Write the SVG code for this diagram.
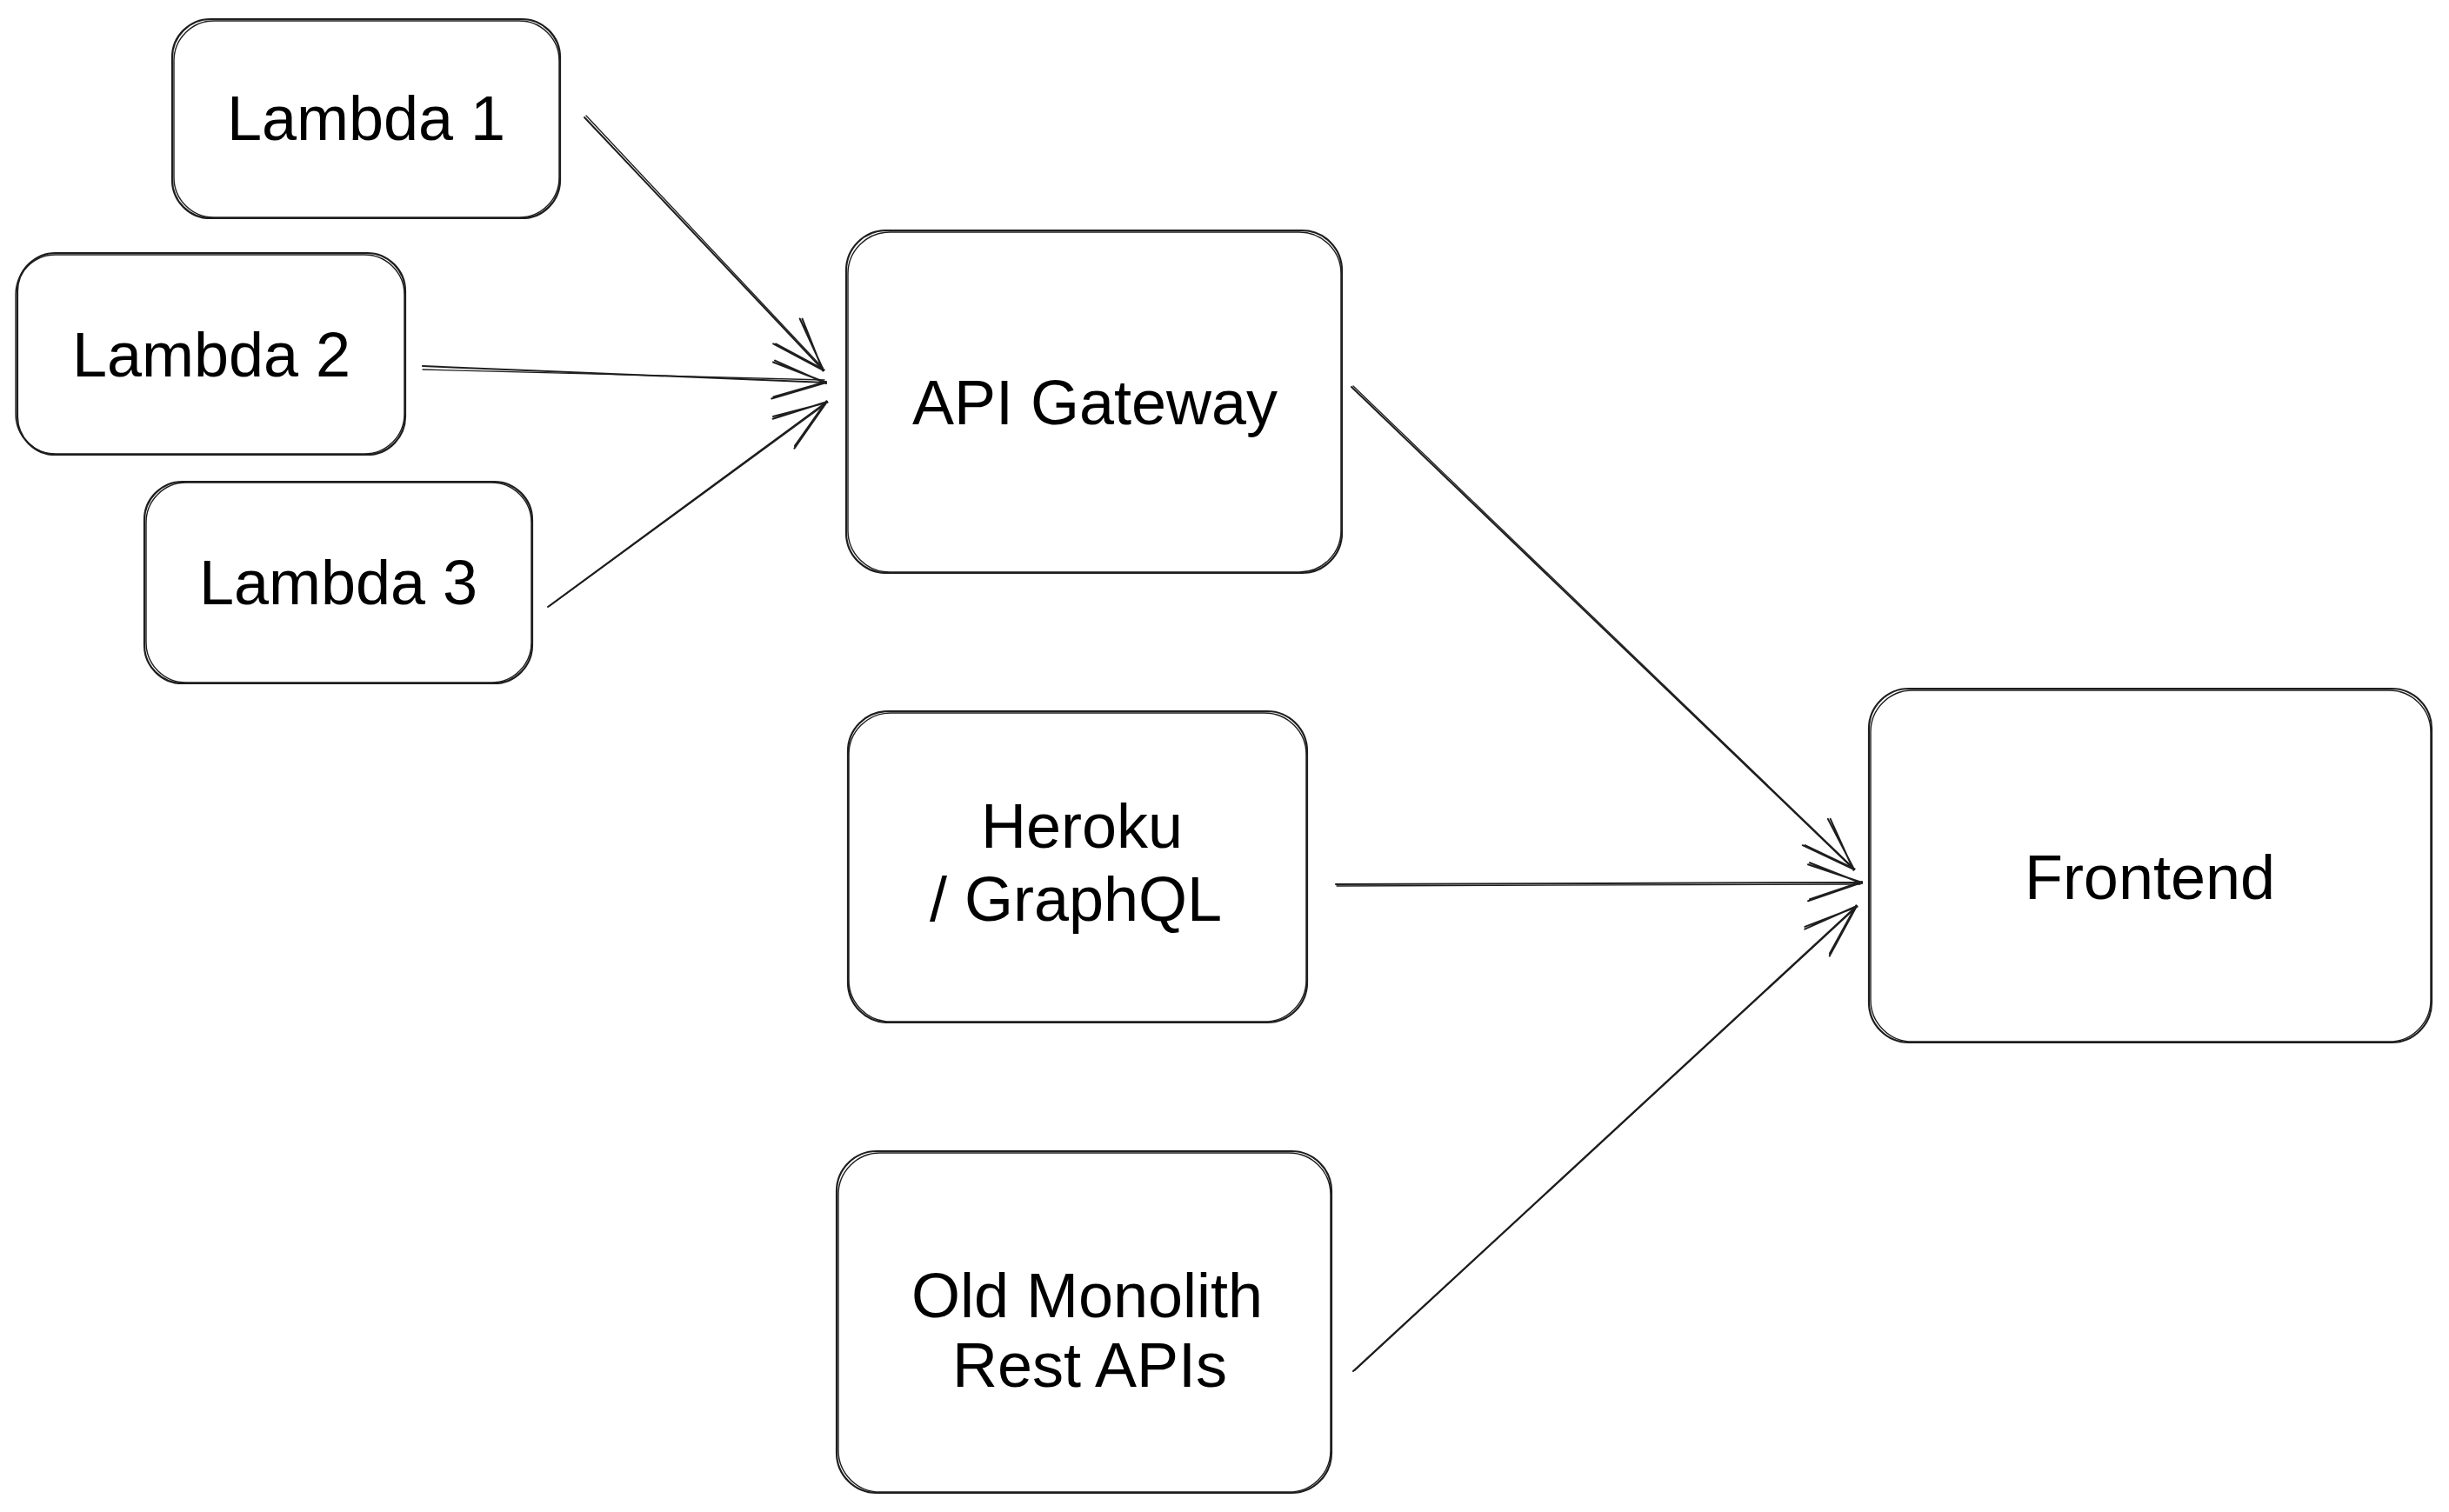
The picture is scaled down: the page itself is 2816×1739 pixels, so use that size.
<svg xmlns="http://www.w3.org/2000/svg" width="2816" height="1739" viewBox="0 0 2816 1739">
<style>
.box{fill:#fff;stroke:#1e1e1e;stroke-width:2.2}
.box2{fill:none;stroke:#1e1e1e;stroke-width:1.4}
.lbl{font-family:"Liberation Sans",Arial,Helvetica,sans-serif;font-size:72px;fill:#000;text-anchor:middle}
.edge{fill:none;stroke:#1e1e1e;stroke-width:2;stroke-linecap:round}
.edge2{fill:none;stroke:#1e1e1e;stroke-width:1.3;stroke-linecap:round}
</style>
<defs>
<marker id="arr" markerUnits="userSpaceOnUse" viewBox="-70 -30 80 60" markerWidth="80" markerHeight="60" refX="0" refY="0" orient="auto">
<path d="M-62,-21 L0,0 L-62,21 M-60,-23 L0,1 M-60,19 L0,-1" fill="none" stroke="#1e1e1e" stroke-width="2" stroke-linecap="round" stroke-linejoin="round"/>
</marker>
</defs>
<rect width="2816" height="1739" fill="#fff"/>
<g id="connectors">
<path class="edge" d="M672,135 L947,426" marker-end="url(#arr)"/>
<path class="edge2" d="M674,133 L946,423"/>
<path class="edge" d="M486,421 L950,440" marker-end="url(#arr)"/>
<path class="edge2" d="M486,425 L948,437"/>
<path class="edge" d="M630,698 L951,462" marker-end="url(#arr)"/>
<path class="edge2" d="M632,697 L949,465"/>
<path class="edge" d="M1554,445 L2132,1000" marker-end="url(#arr)"/>
<path class="edge2" d="M1556,444 L2130,997"/>
<path class="edge" d="M1536,1017 L2141,1015" marker-end="url(#arr)"/>
<path class="edge2" d="M1537,1019 L2139,1017"/>
<path class="edge" d="M1556,1577 L2135,1042" marker-end="url(#arr)"/>
<path class="edge2" d="M1558,1576 L2133,1045"/>
</g>
<g id="lambda1">
<rect class="box" x="198" y="22" width="446" height="229" rx="44"/>
<rect class="box2" x="200" y="24" width="443" height="226" rx="46"/>
<text class="lbl" x="421" y="161">Lambda 1</text>
</g>
<g id="lambda2">
<rect class="box" x="20" y="291" width="446" height="232" rx="44"/>
<rect class="box2" x="18" y="293" width="447" height="229" rx="46"/>
<text class="lbl" x="243" y="433">Lambda 2</text>
</g>
<g id="lambda3">
<rect class="box" x="166" y="554" width="446" height="232" rx="44"/>
<rect class="box2" x="168" y="555" width="443" height="230" rx="46"/>
<text class="lbl" x="389" y="695">Lambda 3</text>
</g>
<g id="api-gateway">
<rect class="box" x="973" y="265" width="570" height="394" rx="46"/>
<rect class="box2" x="975" y="267" width="567" height="391" rx="48"/>
<text class="lbl" x="1259" y="488">API Gateway</text>
</g>
<g id="heroku">
<rect class="box" x="975" y="818" width="528" height="358" rx="46"/>
<rect class="box2" x="976" y="820" width="526" height="355" rx="48"/>
<text class="lbl" x="1244" y="975">Heroku</text>
<text class="lbl" x="1237" y="1059">/ GraphQL</text>
</g>
<g id="old-monolith">
<rect class="box" x="962" y="1324" width="569" height="393" rx="46"/>
<rect class="box2" x="964" y="1326" width="566" height="390" rx="48"/>
<text class="lbl" x="1250" y="1515">Old Monolith</text>
<text class="lbl" x="1253" y="1595">Rest APIs</text>
</g>
<g id="frontend">
<rect class="box" x="2149" y="792" width="647" height="407" rx="46"/>
<rect class="box2" x="2151" y="794" width="644" height="404" rx="48"/>
<text class="lbl" x="2472" y="1034">Frontend</text>
</g>
</svg>
